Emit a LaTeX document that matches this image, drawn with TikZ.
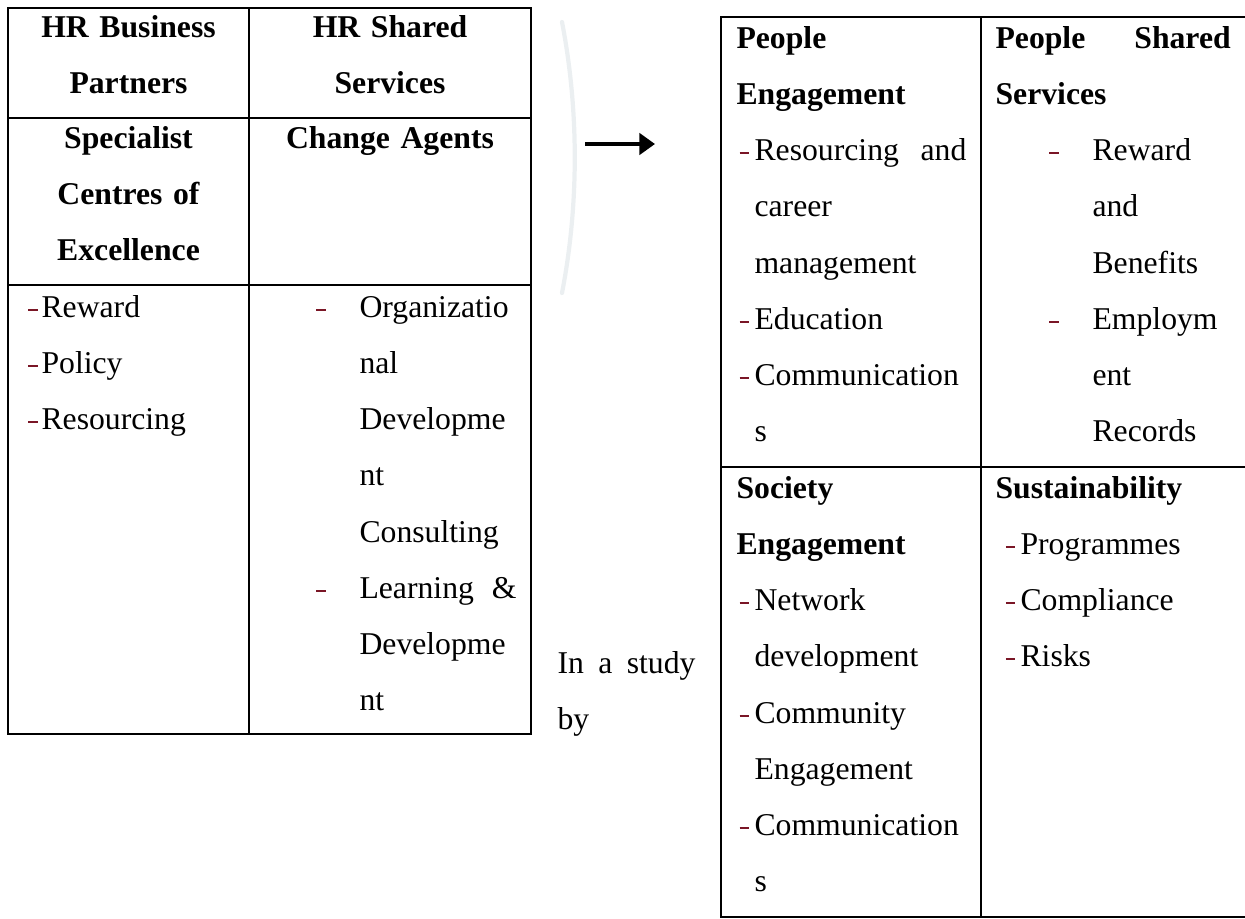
\documentclass[tikz,border=0pt]{standalone}
\usepackage{fontspec}
\setmainfont{Liberation Serif}
\usepackage{tikz}
\usetikzlibrary{arrows.meta}

\definecolor{dashred}{RGB}{122,22,38}
\definecolor{haze}{RGB}{235,239,241}

\newcommand{\itemdash}{\textcolor{dashred}{\rule[2.4pt]{3.6pt}{0.75pt}}}
\newcommand{\dashitem}[1]{\leavevmode\llap{\itemdash\hspace{#1}}}

\begin{document}
\begin{tikzpicture}[x=0.3785pt, y=-0.3785pt,
    tableline/.style={line width=0.65pt},
    centerhead/.style={anchor=base, inner sep=0pt, align=center, font=\fontsize{12}{21.29}\selectfont\bfseries},
    lefthead/.style={anchor=base west, inner sep=0pt, align=left, text width=100pt, font=\fontsize{12}{21.29}\selectfont\bfseries},
    itemlist/.style={anchor=base west, inner sep=0pt, align=left, text width=95pt, font=\fontsize{12}{21.29}\selectfont}]

    \useasboundingbox (0,0) rectangle (1245,918);

    % Old model (left table)
    \draw [tableline] (8,8) rectangle (531,734);
    \draw [tableline] (249,8) -- (249,734);
    \draw [tableline] (8,118) -- (531,118);
    \draw [tableline] (8,285) -- (531,285);

    \node [centerhead, text width=91pt] (hrbp) at (128.5,37) {HR Business\\Partners};
    \node [centerhead, text width=106pt] (hrss) at (390,37) {HR Shared\\Services};
    \node [centerhead, text width=91pt] (scoe) at (128.5,148) {Specialist\\Centres of\\Excellence};
    \node [centerhead, text width=106pt] (agents) at (390,148) {Change Agents};

    \node [itemlist] (scoelist) at (41,317) {\dashitem{1.5pt}Reward\\\dashitem{1.5pt}Policy\\\dashitem{1.5pt}Resourcing};
    \node [itemlist, text width=62pt] (agentslist) at (359,317) {\dashitem{12.7pt}Organizatio\\nal\\Developme\\nt\\Consulting\\\dashitem{12.7pt}\makebox[59.4pt][l]{Learning\hfill\&}\\Developme\\nt};

    % Faint bracket and arrow
    \draw [haze, line width=1.6pt, line cap=round] (562,22) .. controls (579,110) and (579,205) .. (562,293);
    \coordinate (arrowtail) at (585,144);
    \coordinate (arrowtip) at (655,144);
    \draw [-{Triangle[length=5.9pt,width=8pt]}, line width=1.8pt] (arrowtail) -- (arrowtip); % Old model to new model

    \node [itemlist, text width=60pt] (study) at (557,673) {\makebox[52.2pt][l]{In\hfill a\hfill study}\\by};

    % New model (right table)
    \draw [tableline] (1245,17) -- (721,17) -- (721,917) -- (1245,917);
    \draw [tableline] (981,17) -- (981,917);
    \draw [tableline] (721,467) -- (1245,467);

    \node [lefthead] (peoplehead) at (736,48) {People\\Engagement};
    \node [itemlist] (peoplelist) at (754,160.5) {\dashitem{2pt}\makebox[80.2pt][l]{Resourcing\hfill and}\\career\\management\\\dashitem{2pt}Education\\\dashitem{2pt}Communication\\s};

    \node [lefthead] (sharedhead) at (995,48) {\makebox[89pt][l]{People\hfill Shared}\\Services};
    \node [itemlist] (sharedlist) at (1092,160.5) {\dashitem{12.7pt}Reward\\and\\Benefits\\\dashitem{12.7pt}Employm\\ent\\Records};

    \node [lefthead] (societyhead) at (736,498) {Society\\Engagement};
    \node [itemlist] (societylist) at (754,610.5) {\dashitem{2pt}Network\\development\\\dashitem{2pt}Community\\Engagement\\\dashitem{2pt}Communication\\s};

    \node [lefthead] (sushead) at (995,498) {Sustainability};
    \node [itemlist] (suslist) at (1020,554.25) {\dashitem{2pt}Programmes\\\dashitem{2pt}Compliance\\\dashitem{2pt}Risks};

\end{tikzpicture}
\end{document}
